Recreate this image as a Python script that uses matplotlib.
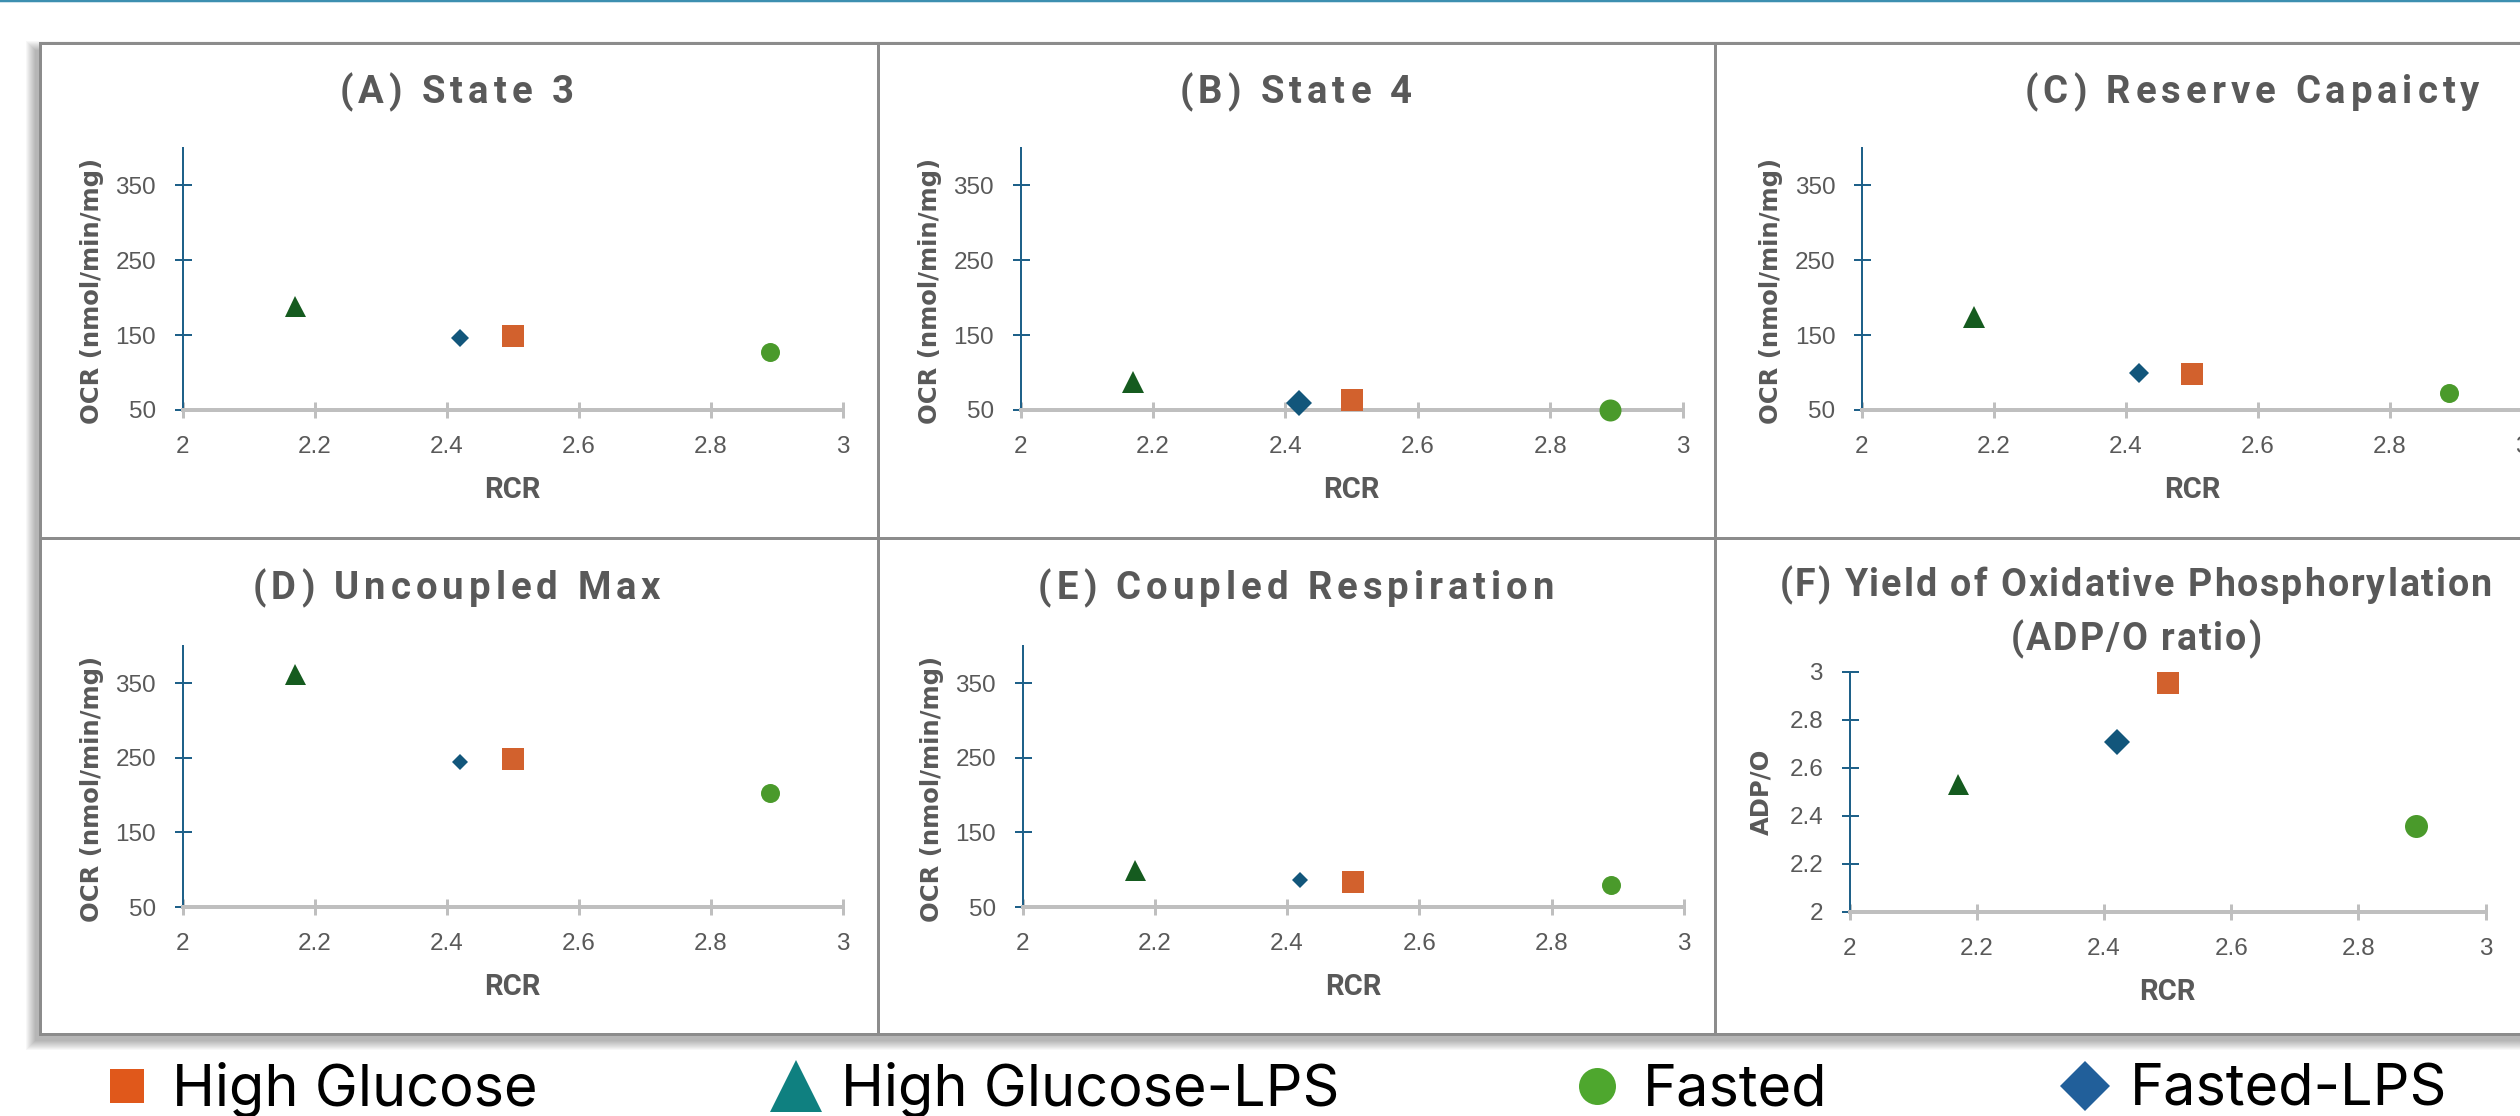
import matplotlib
matplotlib.use('Agg')
import matplotlib.pyplot as plt
from matplotlib.patches import Rectangle
from matplotlib.lines import Line2D

# ------------ Data ---------------
groups = ['High Glucose', 'High Glucose-LPS', 'Fasted', 'Fasted-LPS']
rcr = [2.50, 2.17, 2.89, 2.42]

state3 = [149, 189, 128, 146]
state4 = [63, 88, 50, 59]
reserve = [98, 174, 73, 99]
uncoupled = [248, 363, 203, 245]
coupled = [84, 100, 79, 86]
adp_o = [2.955, 2.535, 2.36, 2.71]

titles = ['(A) State 3', '(B) State 4', '(C) Reserve Capaicty',
          '(D) Uncoupled Max', '(E) Coupled Respiration',
          '(F) Yield of Oxidative Phosphorylation\n(ADP/O ratio)']
ocr_label = 'OCR (nmol/min/mg)'
adp_label = 'ADP/O'
rcr_label = 'RCR'

rcr_ticks = [2, 2.2, 2.4, 2.6, 2.8, 3]
ocr_ticks = [50, 150, 250, 350]
adp_ticks = [2, 2.2, 2.4, 2.6, 2.8, 3]

# ------------ Style ---------------
W, H = 2520, 1116
DPI = 100
PT = 72 / DPI  # pixels -> points

markers = ['s', '^', 'o', 'D']
mark_colors = ['#d2612d', '#155b1f', '#4a9a2b', '#12567b']
legend_colors = ['#e0581b', '#0f8080', '#4ea72e', '#215f9a']
grey_text = '#595959'
yaxis_color = '#1f6189'
xaxis_color = '#bfbfbf'

# marker sizes in pixels per panel (square side, triangle, circle, diamond diagonal)
sizes_px = [[22, 21, 19, 17], [23, 22, 22, 26], [23, 22, 19, 19],
            [23, 21, 19, 16], [23, 21, 19, 16], [23, 21, 23, 25]]

# axes boxes in pixels: left, top, right, bottom
axes_px = [(182.5, 148, 843, 410), (1020.7, 148, 1682.6, 410), (1862, 148, 2522, 410),
           (182.5, 646, 843, 907), (1022.5, 646, 1684, 907), (1849.6, 672, 2485.6, 912)]
# title centre x / baseline y in pixels
title_px = [(456.5, 103), (1296, 103), (2252, 103), (456.5, 599), (1296, 599)]

plt.rcParams['font.family'] = ['Liberation Sans', 'DejaVu Sans']

fig = plt.figure(figsize=(W / DPI, H / DPI), dpi=DPI)
fig.patch.set_facecolor('white')

# background layer in pixel coordinates for the chart boxes
bg = fig.add_axes([0, 0, 1, 1], zorder=-10)
bg.set_xlim(0, W)
bg.set_ylim(H, 0)
bg.axis('off')

col_edges = [40, 878, 1715, 2790]
row_edges = [43, 538, 1034]

# soft drop shadow towards lower left
x0, y0, x1, y1 = col_edges[0], row_edges[0], col_edges[-1], row_edges[-1]
for k in range(10):
    bg.add_patch(Rectangle((x0 - 5 - k, y0 + 7 - k), (x1 - x0) + 2 * k, (y1 - y0) + 2 * k,
                           facecolor='black', alpha=0.03, lw=0))
for r in range(2):
    for c in range(3):
        bg.add_patch(Rectangle((col_edges[c], row_edges[r]),
                               col_edges[c + 1] - col_edges[c], row_edges[r + 1] - row_edges[r],
                               facecolor='white', edgecolor='#8c8c8c', lw=3 * PT))

# thin accent line on top
fig.add_artist(Line2D([0, 1], [1 - 1 / H, 1 - 1 / H], color='#3d8fb0', lw=2.5 * PT))


def tracked_text(text, xc, baseline, tracking, size):
    # draws text char by char so letters can be spaced out
    r = fig.canvas.get_renderer()
    props = dict(fontsize=size, fontweight='bold', family='Roboto', color=grey_text)

    def width(s):
        t = fig.text(0, 0, s, **props)
        w = t.get_window_extent(r).width
        t.remove()
        return w

    ref = width('||')
    adv = [width('|' + text[:i] + '|') - ref for i in range(len(text) + 1)]
    total = adv[-1] + tracking * (len(text) - 1)
    start = xc - total / 2
    for i, ch in enumerate(text):
        if ch.strip():
            fig.text((start + adv[i] + i * tracking) / W, 1 - baseline / H, ch,
                     ha='left', va='baseline', **props)


panel_values = [state3, state4, reserve, uncoupled, coupled, adp_o]

for p, vals in enumerate(panel_values):
    left, top, right, bottom = axes_px[p]
    ax = fig.add_axes([left / W, 1 - bottom / H, (right - left) / W, (bottom - top) / H])
    ax.set_facecolor('none')
    axw = right - left
    axh = bottom - top

    for i in range(len(groups)):
        s = sizes_px[p][i]
        if markers[i] == 'D':
            s = s / 1.414
        ax.plot(rcr[i], vals[i], ls='none', marker=markers[i], ms=s * PT,
                color=mark_colors[i], mew=0, clip_on=False, zorder=5)

    ax.set_xlim(2, 3)
    ax.set_xticks(rcr_ticks)
    ax.set_xticklabels([f'{v:g}' for v in rcr_ticks])
    if p == 5:
        ax.set_ylim(2, 3)
        ax.set_yticks(adp_ticks)
        ax.set_yticklabels([f'{v:g}' for v in adp_ticks])
        ax.set_ylabel(adp_label, fontsize=17.5, fontweight='bold', family='DejaVu Sans',
                      color=grey_text, va='center')
        ax.yaxis.set_label_coords(-88 / axw, 0.5)
    else:
        ax.set_ylim(50, 400)
        ax.set_yticks(ocr_ticks)
        ax.set_ylabel(ocr_label, fontsize=17.5, fontweight='bold', family='DejaVu Sans',
                      color=grey_text, va='center')
        ax.yaxis.set_label_coords(-91 / axw, 0.453)

    ax.set_xlabel(rcr_label, fontsize=21, fontweight='bold', family='Roboto',
                  color=grey_text, va='center')
    ax.xaxis.set_label_coords(0.5, -80 / axh)

    for side in ['top', 'right']:
        ax.spines[side].set_visible(False)
    ax.spines['left'].set_color(yaxis_color)
    ax.spines['left'].set_linewidth(2 * PT)
    ax.spines['bottom'].set_color(xaxis_color)
    ax.spines['bottom'].set_linewidth(4 * PT)
    ax.spines['bottom'].set_zorder(3)

    ax.tick_params(axis='y', direction='inout', length=17 * PT, width=2 * PT,
                   color=yaxis_color, labelsize=17.5, labelcolor=grey_text, pad=13)
    ax.tick_params(axis='x', direction='inout', length=16 * PT, width=3 * PT,
                   color=xaxis_color, labelsize=17.5, labelcolor=grey_text, pad=13)

    if p < 5:
        tracked_text(titles[p], title_px[p][0], title_px[p][1], 5, 27.5)

# panel F title: tighter spacing, two lines
for line, base in zip(titles[5].split('\n'), [596, 650]):
    tracked_text(line, 2136, base, 2, 27)

# ------------ Legend ---------------
legend_sizes_px = [34, 52, 37, 35]
handles = []
for i in range(len(groups)):
    handles.append(Line2D([], [], ls='none', marker=markers[i], color=legend_colors[i],
                          ms=legend_sizes_px[i] * PT, mew=0))
fig.legend(handles, groups, loc='center left', bbox_to_anchor=(104 / W, 1 - 1090 / H),
           ncol=4, frameon=False, prop={'family': 'Inter', 'size': 41.5},
           handlelength=0.8, handletextpad=0.38, columnspacing=4.08,
           borderpad=0, borderaxespad=0)

fig.savefig('out.png', dpi=DPI, facecolor='white')
